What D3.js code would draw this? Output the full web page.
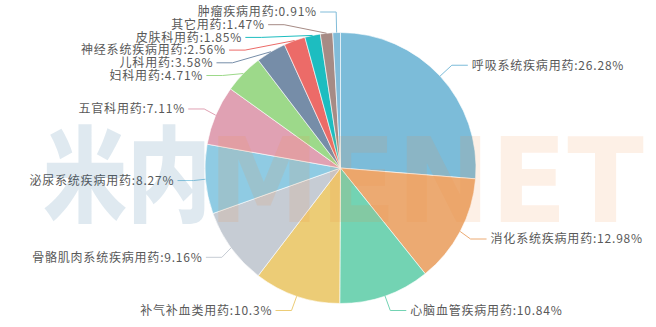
<!DOCTYPE html>
<html>
<head>
<meta charset="utf-8">
<script src="https://cdn.jsdelivr.net/npm/d3@7"></script>
<style>
html,body{margin:0;padding:0;background:#fff;}
svg{display:block;}
</style>
</head>
<body>
<script>
// ---- data ----
const categories = ["呼吸系统疾病用药","消化系统疾病用药","心脑血管疾病用药","补气补血类用药","骨骼肌肉系统疾病用药","泌尿系统疾病用药","五官科用药","妇科用药","儿科用药","神经系统疾病用药","皮肤科用药","其它用药","肿瘤疾病用药"];
const values = [26.28, 12.98, 10.84, 10.3, 9.16, 8.27, 7.11, 4.71, 3.58, 2.56, 1.85, 1.47, 0.91];
const palette = ["#7cbcd9","#ecaa72","#73d3b3","#eccc76","#c6ccd4","#8fcbe3","#e0a1b3","#9dd98a","#768da8","#ec6b68","#1dbdc0","#a68b85","#81bcd9"];
const watermarkCn = "米内";
const watermarkEn = "MENET";

// ---- layout ----
const W = 656, H = 327;
const cx = 340.5, cy = 168, r = 135.5;
const len = 16, len2 = 16, gap = 4, lineH = 12.7;
const minY = 12, maxY = 310.5;

const svg = d3.select("body").append("svg").attr("width", W).attr("height", H);

const data = categories.map((c, i) => ({ name: c, v: values[i], color: palette[i] }));
const pie = d3.pie().sort(null).value(d => d.v);
const arcs = pie(data);
const arc = d3.arc().innerRadius(0).outerRadius(r);

svg.append("g").attr("transform", `translate(${cx},${cy})`)
  .selectAll("path").data(arcs).join("path")
  .attr("d", arc)
  .attr("fill", d => d.data.color)
  .attr("stroke", "#fff")
  .attr("stroke-width", 0.6);

// ---- label layout (echarts-like) ----
const items = arcs.map(a => {
  const m = (a.startAngle + a.endAngle) / 2;
  const sx = Math.sin(m), sy = -Math.cos(m);
  const dir = sx < 0 ? -1 : 1;
  const x0 = cx + r * sx, y0 = cy + r * sy;
  const x1 = cx + (r + len) * sx, y1 = cy + (r + len) * sy;
  const x2 = x1 + dir * len2;
  return { a, sx, sy, dir, pts: [[x0, y0], [x1, y1], [x2, y1]], tx: x2 + dir * gap, ty: y1 };
});

function shift(list) {
  list.sort((p, q) => p.ty - q.ty);
  const n = list.length;
  const blocks = [];
  list.forEach((it, i) => {
    blocks.push({ sum: it.ty - i * lineH, cnt: 1 });
    while (blocks.length > 1) {
      const b2 = blocks[blocks.length - 1], b1 = blocks[blocks.length - 2];
      if (b1.sum / b1.cnt > b2.sum / b2.cnt) { blocks.pop(); b1.sum += b2.sum; b1.cnt += b2.cnt; }
      else break;
    }
  });
  const vals = [];
  blocks.forEach(b => { for (let k = 0; k < b.cnt; k++) vals.push(b.sum / b.cnt); });
  let shifted = false;
  list.forEach((it, i) => {
    const e = Math.min(Math.max(vals[i], minY), maxY - (n - 1) * lineH);
    const y = e + i * lineH;
    if (Math.abs(y - it.ty) > 0.01) shifted = true;
    it.ty = y;
  });
  return shifted;
}

function recalcX(list, dir) {
  const semis = [{ list: [], maxY: 0 }, { list: [], maxY: 0 }];
  list.forEach(it => {
    const semi = it.ty > cy ? semis[1] : semis[0];
    const dy = Math.abs(it.ty - cy);
    if (dy >= semi.maxY) {
      const dx = it.tx - cx - len2 * dir;
      const rA = r + len;
      semi.rB = Math.abs(dx) < rA ? Math.sqrt(dy * dy / (1 - dx * dx / rA / rA)) : rA;
      semi.maxY = dy;
    }
    semi.list.push(it);
  });
  semis.forEach(semi => {
    semi.list.forEach(it => {
      const dy = Math.abs(it.ty - cy);
      const rA = r + len;
      const dx = Math.sqrt(Math.max(0, 1 - dy * dy / (semi.rB * semi.rB))) * rA;
      it.tx = cx + (dx + len2) * dir;
    });
  });
}

[-1, 1].forEach(dir => {
  const side = items.filter(it => it.dir === dir);
  if (side.length > 1 && shift(side)) recalcX(side, dir);
});

// finalize line points
function project(p1, p2, p0) {
  const dx = p2[0] - p1[0], dy = p2[1] - p1[1];
  const l2 = dx * dx + dy * dy;
  const t = ((p0[0] - p1[0]) * dx + (p0[1] - p1[1]) * dy) / l2;
  const px = p1[0] + t * dx, py = p1[1] + t * dy;
  return { p: [px, py], d: Math.hypot(p0[0] - px, p0[1] - py) };
}
function clampOn(p, p1, p2) {
  const t = p2[0] !== p1[0] ? (p[0] - p1[0]) / (p2[0] - p1[0]) : (p[1] - p1[1]) / (p2[1] - p1[1]);
  if (t < 0) return [p1[0], p1[1]];
  if (t > 1) return [p2[0], p2[1]];
  return p;
}
items.forEach(it => {
  const pts = it.pts;
  const dist = pts[1][0] - pts[2][0];
  pts[2][0] = it.tx - it.dir * gap;
  pts[1][0] = pts[2][0] + dist;
  pts[1][1] = pts[2][1] = it.ty;
  {
    const v1 = [pts[0][0] - pts[1][0], pts[0][1] - pts[1][1]];
    const v2 = [pts[2][0] - pts[1][0], pts[2][1] - pts[1][1]];
    const l1 = Math.hypot(v1[0], v1[1]), l2 = Math.hypot(v2[0], v2[1]);
    if (l1 > 1e-3 && l2 > 1e-3 && (v1[0] * v2[0] + v1[1] * v2[1]) / (l1 * l2) > 1e-9) {
      const pr = project(pts[1], pts[2], pts[0]);
      pts[1] = clampOn(pr.p, pts[1], pts[2]);
    }
  }
  {
    const v1 = [pts[1][0] - pts[0][0], pts[1][1] - pts[0][1]];
    const v2 = [pts[2][0] - pts[1][0], pts[2][1] - pts[1][1]];
    const l1 = Math.hypot(v1[0], v1[1]), l2 = Math.hypot(v2[0], v2[1]);
    if (l1 > 1e-3 && l2 > 1e-3) {
      const c = (v1[0] * it.sx + v1[1] * it.sy) / l1;
      if (c < 0) {
        const pr = project(pts[1], pts[2], pts[0]);
        const d2 = [v2[0] / l2, v2[1] / l2];
        const angle2 = Math.acos(Math.max(-1, Math.min(1, d2[0] * it.sx + d2[1] * it.sy)));
        if (angle2 >= Math.PI / 2) pts[1] = [pts[2][0], pts[2][1]];
        else {
          const k = pr.d / Math.tan(Math.PI / 2 - angle2);
          pts[1] = clampOn([pr.p[0] + d2[0] * k, pr.p[1] + d2[1] * k], pts[1], pts[2]);
        }
      }
    }
  }
});

const lg = svg.append("g");
lg.selectAll("polyline").data(items).join("polyline")
  .attr("points", d => d.pts.map(p => p.join(",")).join(" "))
  .attr("fill", "none")
  .attr("stroke", d => d.a.data.color)
  .attr("stroke-width", 1);

lg.selectAll("text").data(items).join("text")
  .attr("x", d => d.tx + (d.dir < 0 ? 0.8 : 0))
  .attr("y", d => d.ty)
  .attr("dy", "0.36em")
  .attr("text-anchor", d => d.dir < 0 ? "end" : "start")
  .attr("font-family", "'Noto Sans CJK SC', 'Noto Sans', sans-serif")
  .attr("font-size", 12)
  .attr("letter-spacing", 0.8)
  .attr("fill", "#595959")
  .text(d => `${d.a.data.name}:${d.a.data.v}%`);

// ---- watermark ----
const wm = svg.append("g").attr("pointer-events", "none");
wm.append("text")
  .attr("x", 43).attr("y", 214)
  .attr("textLength", 168).attr("lengthAdjust", "spacingAndGlyphs")
  .attr("font-family", "'Noto Sans CJK SC', sans-serif")
  .attr("font-weight", 900)
  .attr("font-size", 104)
  .attr("fill", "rgb(28,102,148)")
  .attr("fill-opacity", 0.14)
  .text(watermarkCn);
wm.append("text")
  .attr("x", 208).attr("y", 222)
  .attr("textLength", 436).attr("lengthAdjust", "spacingAndGlyphs")
  .attr("font-family", "'DejaVu Sans', sans-serif")
  .attr("font-weight", 700)
  .attr("font-size", 117)
  .attr("fill", "rgb(242,142,62)")
  .attr("fill-opacity", 0.13)
  .text(watermarkEn);
</script>
</body>
</html>
